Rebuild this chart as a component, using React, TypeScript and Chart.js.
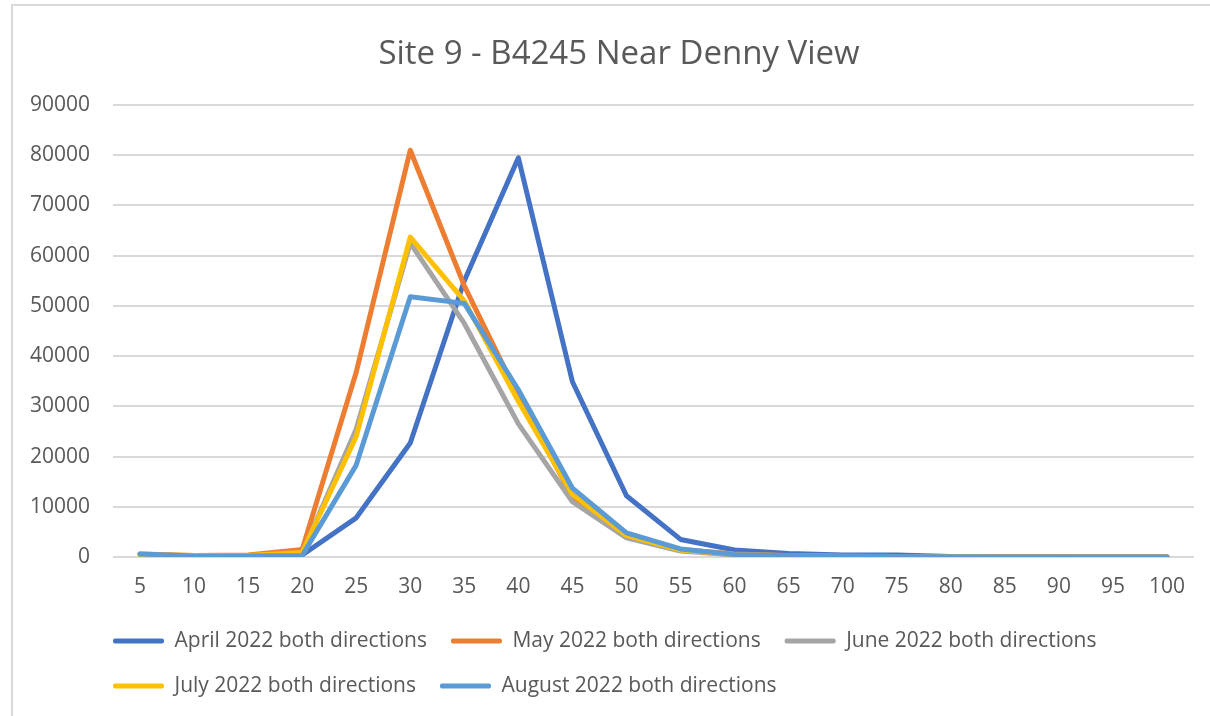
import { useEffect, useRef } from 'react';
import { Chart, registerables } from 'chart.js';

Chart.register(...registerables);

const speeds = ['5', '10', '15', '20', '25', '30', '35', '40', '45', '50', '55', '60', '65', '70', '75', '80', '85', '90', '95', '100'];
const april = [500, 200, 200, 400, 7800, 22700, 55000, 79500, 34900, 12200, 3500, 1400, 700, 400, 400, 100, 50, 30, 20, 10];
const may = [600, 300, 400, 1500, 36800, 81000, 54000, 32000, 12000, 4000, 1500, 600, 300, 200, 100, 50, 20, 10, 10, 5];
const june = [500, 200, 200, 800, 25500, 62500, 46500, 26500, 11000, 3800, 1200, 400, 200, 100, 60, 30, 10, 5, 5, 0];
const july = [500, 300, 300, 900, 24000, 63700, 51000, 31000, 12500, 4300, 1400, 500, 250, 120, 70, 30, 10, 5, 5, 0];
const august = [600, 200, 200, 300, 18300, 51800, 50500, 33300, 13700, 4800, 1600, 500, 300, 150, 80, 40, 20, 10, 5, 0];
const seriesLabels = [
  'April 2022 both directions',
  'May 2022 both directions',
  'June 2022 both directions',
  'July 2022 both directions',
  'August 2022 both directions',
];
const seriesColors = ['#4472C4', '#ED7D31', '#A5A5A5', '#FFC000', '#5B9BD5'];
const yTicks = { min: 0, max: 90000, step: 10000 };
const titleText = 'Site 9 - B4245 Near Denny View';

const FONT = "'Open Sans', 'Noto Sans', sans-serif";
const TEXT = '#595959';
const GRID = '#D9D9D9';

export default function App() {
  const ref = useRef<HTMLCanvasElement>(null);

  useEffect(() => {
    document.body.style.margin = '0';
    document.body.style.overflow = 'hidden';
    const canvas = ref.current;
    if (!canvas) return;

    const seriesData = [april, may, june, july, august];
    const datasets = seriesData.map((d, i) => ({
      label: seriesLabels[i],
      data: d,
      borderColor: seriesColors[i],
      backgroundColor: seriesColors[i],
      borderWidth: 5,
      pointRadius: 0,
      pointHoverRadius: 0,
      tension: 0,
      borderJoinStyle: 'round' as const,
      borderCapStyle: 'round' as const,
      order: seriesData.length - i,
    }));

    const shiftBlocks = {
      id: 'shiftBlocks',
      afterLayout(chart: any) {
        const l = chart.legend;
        if (l) {
          l.left += 89;
          l.right += 89;
        }
        const t = chart.titleBlock;
        if (t) {
          t.left += 22;
          t.right += 22;
        }
      },
    };

    const chart = new Chart(canvas, {
      type: 'line',
      data: { labels: speeds, datasets },
      plugins: [shiftBlocks],
      options: {
        responsive: false,
        animation: false,
        layout: { padding: { left: 0, right: 16, top: 0, bottom: 9.5 } },
        plugins: {
          title: {
            display: true,
            text: titleText,
            color: TEXT,
            font: { family: FONT, size: 33, weight: 'normal' },
            padding: { top: 35, bottom: 30.4 },
          },
          legend: {
            display: true,
            position: 'bottom',
            align: 'start',
            labels: {
              color: TEXT,
              font: { family: FONT, size: 21 },
              boxWidth: 51,
              boxHeight: 5,
              padding: 24,
              useBorderRadius: true,
              borderRadius: 2,
              sort: (a: any, b: any) => a.datasetIndex - b.datasetIndex,
              generateLabels: (c: any) =>
                (Chart.defaults.plugins.legend.labels.generateLabels as any)(c).map((l: any) => ({
                  ...l,
                  lineWidth: 0,
                })),
            },
          },
          tooltip: { enabled: false },
        },
        scales: {
          x: {
            offset: true,
            grid: { display: false, drawTicks: false },
            border: { display: false },
            ticks: {
              color: TEXT,
              font: { family: FONT, size: 21 },
              padding: 17,
              maxRotation: 0,
              autoSkip: false,
            },
            afterFit: (s: any) => {
              s.height = 49.5;
            },
          },
          y: {
            min: yTicks.min,
            max: yTicks.max,
            grid: { color: GRID, lineWidth: 2, drawTicks: false },
            border: { display: false },
            ticks: {
              stepSize: yTicks.step,
              color: TEXT,
              font: { family: FONT, size: 21 },
              padding: 23,
              callback: (v: any) => String(v),
            },
            afterFit: (s: any) => {
              s.width = 113;
            },
          },
        },
      },
    });

    return () => chart.destroy();
  }, []);

  return (
    <div style={{ position: 'relative', width: 1210, height: 716, background: '#fff', overflow: 'hidden' }}>
      <div
        style={{
          position: 'absolute',
          left: 11,
          top: 4,
          width: 1230,
          height: 740,
          border: '2px solid #D9D9D9',
          boxSizing: 'border-box',
        }}
      />
      <canvas ref={ref} width={1210} height={716} style={{ position: 'absolute', left: 0, top: 0 }} />
    </div>
  );
}
